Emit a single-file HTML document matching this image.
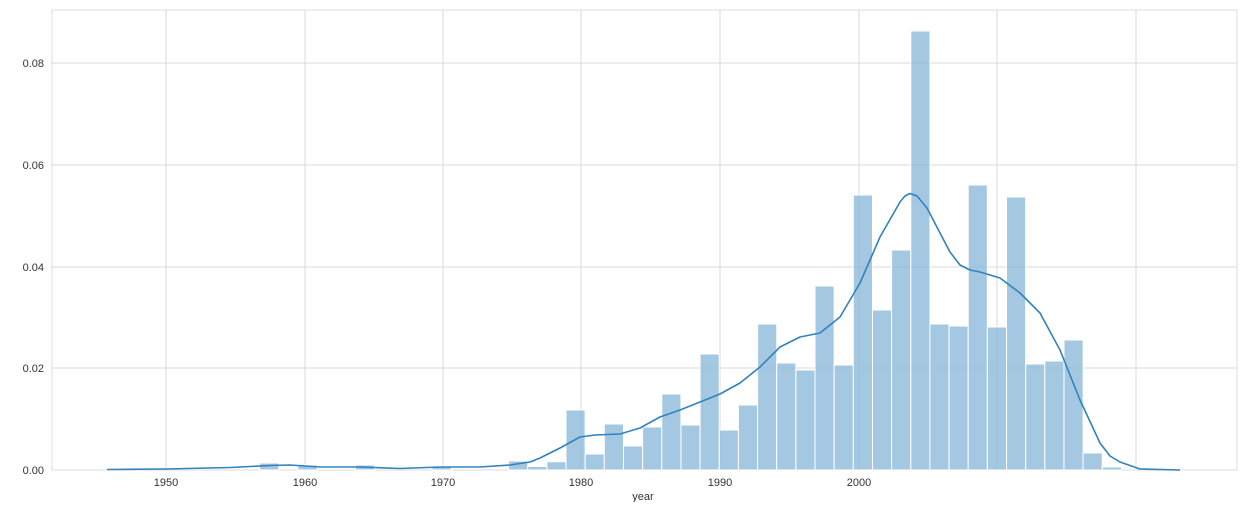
<!DOCTYPE html>
<html><head><meta charset="utf-8"><style>
body{margin:0;background:#fff;}
svg text{font-family:"Liberation Sans",sans-serif;font-size:11px;fill:#333;}
</style></head><body>
<svg width="1240" height="502" xmlns="http://www.w3.org/2000/svg">
<rect x="52" y="10" width="1185" height="460" fill="#fff" stroke="#ddd"/>
<g stroke="#d9d9d9" stroke-width="1">
<line x1="52" x2="1237" y1="368" y2="368"/>
<line x1="52" x2="1237" y1="267" y2="267"/>
<line x1="52" x2="1237" y1="165" y2="165"/>
<line x1="52" x2="1237" y1="63" y2="63"/>
<line x1="166" x2="166" y1="10" y2="470"/>
<line x1="305" x2="305" y1="10" y2="470"/>
<line x1="443" x2="443" y1="10" y2="470"/>
<line x1="581" x2="581" y1="10" y2="470"/>
<line x1="720" x2="720" y1="10" y2="470"/>
<line x1="859" x2="859" y1="10" y2="470"/>
<line x1="997" x2="997" y1="10" y2="470"/>
<line x1="1136" x2="1136" y1="10" y2="470"/>
</g>
<g fill="#8ab8d8" fill-opacity="0.78" stroke="#fff" stroke-width="1">
<rect x="259.7" y="463" width="19.15" height="7"/>
<rect x="297.9" y="465" width="19.15" height="5"/>
<rect x="355.4" y="465" width="19.15" height="5"/>
<rect x="432" y="466" width="19.15" height="4"/>
<rect x="508.6" y="461" width="19.15" height="9"/>
<rect x="527.7" y="466.5" width="19.15" height="3.5"/>
<rect x="546.9" y="461.7" width="19.15" height="8.3"/>
<rect x="566.0" y="410" width="19.15" height="60"/>
<rect x="585.2" y="454" width="19.15" height="16"/>
<rect x="604.3" y="424" width="19.15" height="46"/>
<rect x="623.5" y="446" width="19.15" height="24"/>
<rect x="642.6" y="427" width="19.15" height="43"/>
<rect x="661.8" y="394" width="19.15" height="76"/>
<rect x="681.0" y="425" width="19.15" height="45"/>
<rect x="700.1" y="354" width="19.15" height="116"/>
<rect x="719.3" y="430" width="19.15" height="40"/>
<rect x="738.4" y="405" width="19.15" height="65"/>
<rect x="757.6" y="324" width="19.15" height="146"/>
<rect x="776.7" y="363" width="19.15" height="107"/>
<rect x="795.9" y="370" width="19.15" height="100"/>
<rect x="815.0" y="286" width="19.15" height="184"/>
<rect x="834.2" y="365" width="19.15" height="105"/>
<rect x="853.3" y="195" width="19.15" height="275"/>
<rect x="872.5" y="310" width="19.15" height="160"/>
<rect x="891.6" y="250" width="19.15" height="220"/>
<rect x="910.8" y="31" width="19.15" height="439"/>
<rect x="929.9" y="324" width="19.15" height="146"/>
<rect x="949.1" y="326" width="19.15" height="144"/>
<rect x="968.2" y="185" width="19.15" height="285"/>
<rect x="987.4" y="327" width="19.15" height="143"/>
<rect x="1006.5" y="197" width="19.15" height="273"/>
<rect x="1025.7" y="364" width="19.15" height="106"/>
<rect x="1044.8" y="361" width="19.15" height="109"/>
<rect x="1064.0" y="340" width="19.15" height="130"/>
<rect x="1083.1" y="453" width="19.15" height="17"/>
<rect x="1102.3" y="467" width="19.15" height="3"/>
</g>
<polyline fill="none" stroke="#3182bd" stroke-width="1.6" stroke-linejoin="round" points="107,469.5 166,469 230,467.5 270,465.5 290,465 320,467 360,467 400,468.5 440,467 480,467 510,465 530,462 540,458 560,448 580,437 595,435 620,434 640,428 660,417 680,410 700,402 720,394 740,383 760,367 780,347 800,337 820,333 840,317 860,283 880,237 900,202 905,196 910,193.5 917,196 927,208 940,233 950,252 960,265 970,270 980,272 1000,278 1020,293 1040,313 1060,350 1080,400 1100,443 1110,456 1120,462 1140,469 1180,470"/>
<g text-anchor="end">
<text x="44" y="474">0.00</text>
<text x="44" y="372">0.02</text>
<text x="44" y="271">0.04</text>
<text x="44" y="169">0.06</text>
<text x="44" y="67">0.08</text>
</g>
<g text-anchor="middle">
<text x="166" y="486">1950</text>
<text x="305" y="486">1960</text>
<text x="443" y="486">1970</text>
<text x="581" y="486">1980</text>
<text x="720" y="486">1990</text>
<text x="859" y="486">2000</text>
<text x="643" y="500">year</text>
</g>
</svg>
</body></html>
